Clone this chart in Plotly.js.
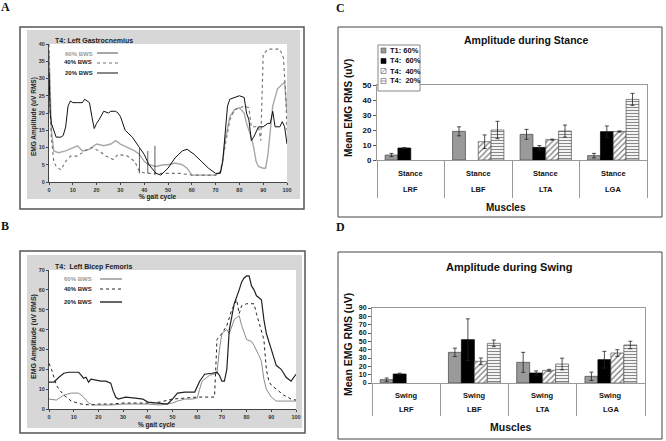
<!DOCTYPE html>
<html>
<head>
<meta charset="utf-8">
<script src="https://cdn.plot.ly/plotly-3.0.1.min.js"></script>
<style>html,body{margin:0;padding:0;background:#fff}#chart{width:666px;height:441px}</style>
</head>
<body>
<div id="chart"></div>
<script>
// ---------- Panel A: Left Gastrocnemius (uV RMS vs % gait cycle) ----------
const gaBws60x = [0,0.5,1,2,4,7,10,12,14,17,20,23,26,28,30,33,36,38,40,42,45,48,50,53,56,58,60,65,70,72,73,74,76,78,80,82,83,84,85,86,87,88,90,91,92,93,94,96,98,99,100];
const gaBws60y = [38,25,15,9,8.5,9,10,10.5,9,9.5,11,10.5,11,12,11,10,9,8,6,5,4.5,5,5,5.5,5,4,2,2,2,3,6,12,19,21,21.5,20,17,15,13,10,6,4.5,4,4,8,15,22,27,28.5,29,20];
const gaBws40x = [0,0.5,1,2,3,5,7,9,12,15,18,21,24,27,29,33,36,38,41,45,50,55,60,65,70,72,74,76,78,80,82,84,85,87,88,89,89.5,90,92,95,97,98.5,99.5,100];
const gaBws40y = [40,20,13,6,4.5,3.5,6,7.5,7.5,9,10,9,7.5,6.5,8,7.5,6,3,2.5,2.5,2.5,2.5,2,2,2,3,10,18,21,21.5,22,21.5,16,16,16,12,25,37,38.5,38.5,38.5,36,25,15];
const gaBws20x = [0,0.5,1,3,5,6,7,8,9,10,12,14,15,16,17,18,19,20,21,23,25,26,28,29,30,32,35,38,40,42,45,47,50,53,56,58,61,64,67,70,72,73,74,75,76,80,82,83,84,85,86,88,90,92,93,94,95,97,98,99,100];
const gaBws20y = [32,20,17,13,13,13.5,16,22,23.5,23,23,23,24,23.5,23,19,15.5,17,18,20.5,20,20.5,20.5,20,19,15,13,10,8,5,2.5,2,4,7,9,9.5,8,6,4,2.5,2.5,6,15,22,24,25,24.5,20,18,12,13,16,16,17,17,20.5,16,16,17.5,16,11];
const gaMarkX = [38, 41.5, 44.5];
const gaMarkLow = [2.5, 2.5, 2];
const gaMarkHigh = [10, 9, 10.5];

// ---------- Panel B: Left Bicep Femoris ----------
const bfBws60x = [0,3,6,9,12,14,16,18,25,30,35,40,45,50,52,55,58,60,61,62,65,67,68,69,70,72,73,75,77,78,80,82,83,85,86,87,88,90,92,95,100];
const bfBws60y = [5,4.5,7,8,8,6,3,2,2,2.5,2.5,2.5,2,3,4,5,5,5.5,10,14,17,17.5,18,30,38,40,38,45,47,42,35,34,32,27,24,15,10,6,4,4,4];
const bfBws40x = [0,1,3,4,6,9,13,17,20,25,30,35,40,45,50,55,60,65,67,67.5,68,70,72,74,76,77,78,80,83,84,86,87,88,89,90,92,95,98,100];
const bfBws40y = [23,20,12,10,7,4,2.5,2,2.5,2.5,3,3,3,3.5,5,5.5,6,6,6,20,35,38,42,50,55,48,52,53,53,48,40,35,20,14,12,10,7,5,4.5];
const bfBws20x = [0,2,4,6,8,10,12,13,14,15,16,17,19,21,23,25,26,27,28,31,35,38,40,45,48,50,52,55,59,61,63,66,68,69,70,71,72,73,75,77,78,79,80,81,82,83,84,85,86,87,88,90,92,94,96,97,98,100];
const bfBws20y = [13.5,13.5,16,18,18.5,18.5,18.5,17,15.5,16,13.5,15,14.5,14,14,13,9,6,5,6,5.5,5,3.5,3,2.5,5,8,8.5,8.5,14,17.5,18,18.5,17,14,14,20,40,53,60,64,66,67,67,62,60,57,56,55,45,38,30,22,20,16,15,14,17.5];

// ---------- Panels C and D: mean EMG RMS (uV) ----------
const muscles = ['LRF', 'LBF', 'LTA', 'LGA'];
const stanceLabels = ['Stance', 'Stance', 'Stance', 'Stance'];
const swingLabels = ['Swing', 'Swing', 'Swing', 'Swing'];
const groupNames = ['T1: 60%', 'T4:  60%', 'T4:  40%', 'T4:  20%'];

const stanceT1p60 = [3.3, 19.1, 17.1, 2.9];
const stanceT1p60Err = [1.1, 3, 3.3, 1.5];
const stanceT4p60 = [8, null, 8.4, 18.9];
const stanceT4p60Err = [0.3, 0, 1.2, 3.8];
const stanceT4p40 = [null, 12.2, 13.6, 19];
const stanceT4p40Err = [0, 4.5, 0.3, 0.4];
const stanceT4p20 = [null, 20, 19.3, 40.4];
const stanceT4p20Err = [0, 5.8, 4, 4];

const swingT1p60 = [4, 36.8, 24.8, 8];
const swingT1p60Err = [2, 5, 12, 5];
const swingT4p60 = [10.8, 52, 12, 28];
const swingT4p60Err = [1, 25, 2.5, 10];
const swingT4p40 = [null, 26, 15.2, 36];
const swingT4p40Err = [0, 4, 1.2, 4];
const swingT4p20 = [null, 47.6, 22.8, 45.6];
const swingT4p20Err = [0, 4, 7, 4.5];

// ---------- helpers ----------
const W = 666, H = 441;
const fx = p => p / W;
const fy = p => 1 - p / H;
const SANS = 'Liberation Sans, Arial, sans-serif';
const SERIF = 'Liberation Serif, Times New Roman, serif';

const traces = [];
function line(x, y, xa, ya, color, width, dash) {
  traces.push({type: 'scatter', mode: 'lines', x: x, y: y, xaxis: xa, yaxis: ya,
    line: {color: color, width: width, dash: dash || 'solid'}, showlegend: false, hoverinfo: 'skip'});
}
line(gaBws60x, gaBws60y, 'x', 'y', '#a8a8a8', 1.4);
line(gaBws40x, gaBws40y, 'x', 'y', '#707070', 1.1, 'dot');
line(gaBws20x, gaBws20y, 'x', 'y', '#111111', 1);
(function () {
  const mx = [], my = [];
  for (let i = 0; i < gaMarkX.length; i++) {
    mx.push(gaMarkX[i], gaMarkX[i], null);
    my.push(gaMarkLow[i], gaMarkHigh[i], null);
  }
  line(mx, my, 'x', 'y', '#333', 0.8);
})();

line(bfBws60x, bfBws60y, 'x2', 'y2', '#8a8a8a', 1);
line(bfBws40x, bfBws40y, 'x2', 'y2', '#222222', 1, 'dot');
line(bfBws20x, bfBws20y, 'x2', 'y2', '#222222', 1.2);

const barStyles = [
  {color: '#9a9a9a', line: {color: '#444', width: 0.7}},
  {color: '#000000', line: {color: '#000', width: 0.7}},
  {color: '#ffffff', line: {color: '#555', width: 0.7},
   pattern: {shape: '/', fgcolor: '#777', bgcolor: '#fff', size: 4, solidity: 0.3}},
  {color: '#ffffff', line: {color: '#555', width: 0.7},
   pattern: {shape: '-', fgcolor: '#888', bgcolor: '#fff', size: 3, solidity: 0.4}}
];
function bars(vals, errs, xa, ya) {
  for (let i = 0; i < vals.length; i++) {
    traces.push({type: 'bar', x: muscles, y: vals[i], xaxis: xa, yaxis: ya,
      name: groupNames[i], marker: barStyles[i], showlegend: false, hoverinfo: 'skip',
      error_y: {type: 'data', array: errs[i], visible: true, color: '#222', thickness: 0.8, width: 2}});
  }
}
bars([stanceT1p60, stanceT4p60, stanceT4p40, stanceT4p20],
  [stanceT1p60Err, stanceT4p60Err, stanceT4p40Err, stanceT4p20Err], 'x3', 'y3');
bars([swingT1p60, swingT4p60, swingT4p40, swingT4p20],
  [swingT1p60Err, swingT4p60Err, swingT4p40Err, swingT4p20Err], 'x4', 'y4');

// ---------- axes ----------
const lineAxis = (dom, rng, dt, anchor) => ({
  domain: dom, range: rng, dtick: dt, tick0: 0, anchor: anchor, ticks: 'outside', ticklen: 2,
  tickcolor: '#444', showline: true, linecolor: '#444', linewidth: 1, showgrid: false, zeroline: false,
  tickfont: {family: SANS, size: 5.5, color: '#333', weight: 'bold'}, fixedrange: true
});
const catAxis = (dom, anchor, len) => ({
  type: 'category', domain: dom, anchor: anchor, range: [-0.5, 3.5], showline: true, linecolor: '#999',
  linewidth: 1, mirror: true, tickson: 'boundaries', ticks: 'outside', ticklen: len, tickcolor: '#999',
  tickwidth: 1, showticklabels: false, showgrid: false, fixedrange: true
});
const valAxis = (dom, rng, anchor, fs) => ({
  domain: dom, range: rng, dtick: 10, anchor: anchor, ticks: 'outside', ticklen: 3, tickcolor: '#555',
  showline: true, linecolor: '#999', linewidth: 1, mirror: true, showgrid: false, zeroline: false,
  tickfont: {family: SANS, size: fs, color: '#111', weight: 'bold'}, fixedrange: true
});

// ---------- shapes (panel frames, legends) ----------
const shapes = [];
function rect(x0, y0, x1, y1, fill, lc, lw, layer) {
  shapes.push({type: 'rect', xref: 'paper', yref: 'paper', x0: fx(x0), y0: fy(y1), x1: fx(x1), y1: fy(y0),
    fillcolor: fill, line: {color: lc || 'rgba(0,0,0,0)', width: lw || 0}, layer: layer || 'below'});
}
function seg(x0, y0, x1, y1, color, width, dash) {
  shapes.push({type: 'line', xref: 'paper', yref: 'paper', x0: fx(x0), y0: fy(y0), x1: fx(x1), y1: fy(y1),
    line: {color: color, width: width, dash: dash || 'solid'}, layer: 'above'});
}
rect(20, 27, 304, 209, '#fff', '#555', 1.5);
rect(27, 30, 300, 199, '#d7d7d7');
rect(49, 44, 287, 182, '#fff');
rect(20, 251, 305, 433, '#fff', '#555', 1.5);
rect(27, 255, 302, 428, '#d7d7d7');
rect(49, 270, 296, 409, '#fff');
rect(338, 27, 662, 217, '#fff', '#444', 1);
rect(338, 252, 662, 439, '#fff', '#444', 1);

// line-chart legends
seg(97, 53, 118, 53, '#a8a8a8', 2);
seg(97, 63, 118, 63, '#707070', 1.1, 'dot');
seg(97, 73, 118, 73, '#111', 1);
seg(100, 279, 122, 279, '#666', 1);
seg(100, 289, 122, 289, '#222', 1, 'dot');
seg(100, 302, 122, 302, '#666', 2);

// bar legend (panel C)
rect(378, 45, 420, 91, '#fff', '#888', 1, 'above');
const legRows = [50.5, 61, 71, 81];
rect(381, legRows[0] - 2.5, 386, legRows[0] + 2.5, '#9a9a9a', '#555', 0.6, 'above');
rect(381, legRows[1] - 2.5, 386, legRows[1] + 2.5, '#000', '#000', 0.6, 'above');
rect(381, legRows[2] - 2.5, 386, legRows[2] + 2.5, '#fff', '#555', 0.6, 'above');
seg(381.5, legRows[2] + 2, 385.5, legRows[2] - 2, '#777', 0.8);
rect(381, legRows[3] - 2.5, 386, legRows[3] + 2.5, '#fff', '#555', 0.6, 'above');
seg(381, legRows[3], 386, legRows[3], '#777', 0.8);

// ---------- annotations ----------
const ann = [];
function txt(t, x, y, size, opts) {
  opts = opts || {};
  ann.push({text: t, xref: 'paper', yref: 'paper', x: fx(x), y: fy(y), showarrow: false,
    xanchor: opts.xa || 'center', yanchor: 'middle', textangle: opts.angle || 0,
    font: {family: opts.family || SANS, size: size, color: opts.color || '#111', weight: opts.weight || 'bold'}});
}
function catLabel(t, cat, xa, y, size) {
  ann.push({text: t, xref: xa, yref: 'paper', x: cat, y: fy(y), showarrow: false,
    xanchor: 'center', yanchor: 'middle',
    font: {family: SANS, size: size, color: '#111', weight: 'bold'}});
}
txt('A', 5.5, 7, 12, {family: SERIF});
txt('B', 5, 225.5, 12, {family: SERIF});
txt('C', 340, 8, 12, {family: SERIF});
txt('D', 340, 226.5, 12, {family: SERIF});

txt('T4: Left Gastrocnemius', 53, 41, 7, {xa: 'left', color: '#222'});
txt('60% BWS', 62.5, 54, 6, {xa: 'left', color: '#999'});
txt('40% BWS', 61.5, 62.5, 6, {xa: 'left', color: '#222'});
txt('20% BWS', 62.5, 73.5, 6, {xa: 'left', color: '#222'});
txt('% gait cycle', 158, 197, 6.5, {color: '#222'});
txt('EMG Amplitude (uV RMS)', 34, 117, 6.5, {angle: -90, color: '#222'});

txt('T4:  Left Bicep Femoris', 53, 267, 7, {xa: 'left', color: '#222'});
txt('60% BWS', 62, 278.5, 6, {xa: 'left', color: '#999'});
txt('40% BWS', 62, 288.5, 6, {xa: 'left', color: '#222'});
txt('20% BWS', 62, 301.5, 6, {xa: 'left', color: '#222'});
txt('% gait cycle', 157, 425, 6.5, {color: '#222'});
txt('EMG Amplitude (uV RMS)', 34, 337, 7, {angle: -90, color: '#222'});

txt('Amplitude during Stance', 526, 40, 10.5);
txt('Mean EMG RMS (uV)', 348, 108, 10, {angle: -90});
txt('Muscles', 506, 207, 10);
for (let i = 0; i < groupNames.length; i++) txt(groupNames[i], 388, legRows[i], 7.5, {xa: 'left'});
for (let i = 0; i < muscles.length; i++) {
  catLabel(stanceLabels[i], muscles[i], 'x3', 173, 7.5);
  catLabel(muscles[i], muscles[i], 'x3', 190, 7.5);
  catLabel(swingLabels[i], muscles[i], 'x4', 395, 7.5);
  catLabel(muscles[i], muscles[i], 'x4', 409, 7.5);
}

txt('Amplitude during Swing', 510, 267, 11);
txt('Mean EMG RMS (uV)', 348, 345, 10.5, {angle: -90});
txt('Muscles', 511, 427, 10.5);

const layout = {
  width: W, height: H, autosize: false,
  margin: {l: 0, r: 0, t: 0, b: 0, pad: 0},
  paper_bgcolor: '#fff', plot_bgcolor: 'rgba(0,0,0,0)',
  showlegend: false, barmode: 'group', bargap: 0.24, bargroupgap: 0,
  xaxis: lineAxis([fx(49), fx(287)], [0, 100], 10, 'y'),
  yaxis: lineAxis([fy(182), fy(44)], [0, 40], 5, 'x'),
  xaxis2: lineAxis([fx(49), fx(296)], [0, 100], 10, 'y2'),
  yaxis2: lineAxis([fy(409), fy(270)], [0, 70], 10, 'x2'),
  xaxis3: catAxis([fx(377), fx(647)], 'y3', 37),
  yaxis3: valAxis([fy(160), fy(85)], [0, 50], 'x3', 8),
  xaxis4: catAxis([fx(372), fx(645)], 'y4', 32),
  yaxis4: valAxis([fy(383), fy(308)], [0, 90], 'x4', 7),
  shapes: shapes, annotations: ann
};

Plotly.newPlot('chart', traces, layout, {staticPlot: true, displayModeBar: false});
</script>
</body>
</html>
